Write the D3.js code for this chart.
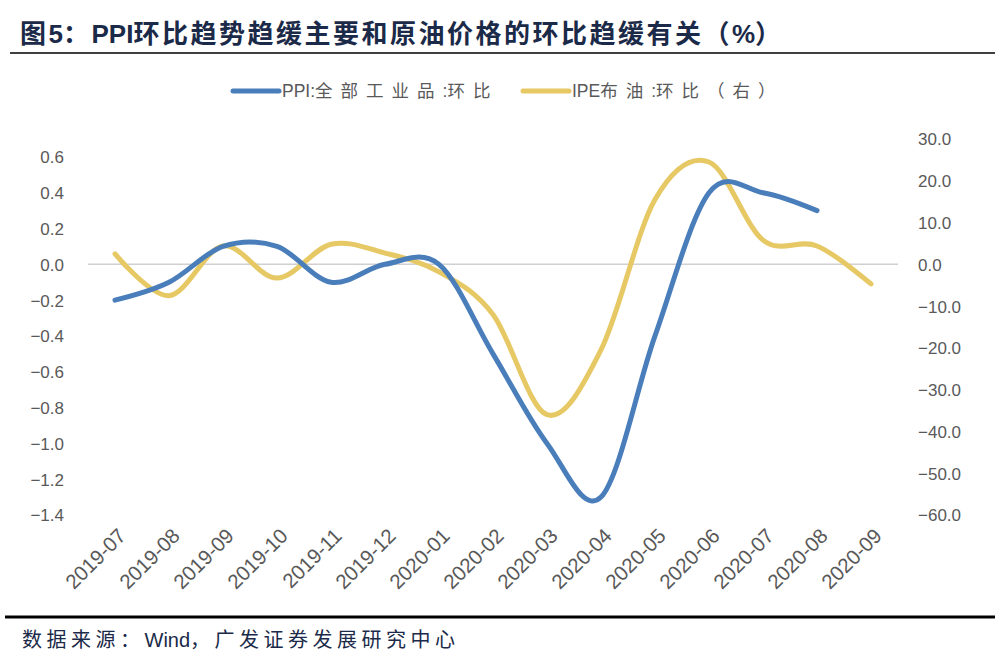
<!DOCTYPE html>
<html>
<head>
<meta charset="utf-8">
<script src="https://cdn.jsdelivr.net/npm/d3@7"></script>
<style>
  body { margin: 0; background: #fff; }
  svg { display: block; }
</style>
</head>
<body>
<div id="chart"></div>
<script>
// data
const months = ['2019-07', '2019-08', '2019-09', '2019-10', '2019-11', '2019-12', '2020-01',
  '2020-02', '2020-03', '2020-04', '2020-05', '2020-06', '2020-07', '2020-08', '2020-09'];
const ppiValues = [-0.2, -0.1, 0.1, 0.1, -0.1, 0.0, 0.0, -0.5, -1.0, -1.3, -0.4, 0.4, 0.4, 0.3];
const ipeValues = [2.5, -7.5, 4.4, -3.3, 4.8, 2.7, -1.8, -12, -36, -20.5, 15.5, 24.5, 5.8, 4.4, -4.7];
const leftTicks = [0.6, 0.4, 0.2, 0.0, -0.2, -0.4, -0.6, -0.8, -1.0, -1.2, -1.4];
const rightTicks = [30, 20, 10, 0, -10, -20, -30, -40, -50, -60];

const W = 1005, H = 666;
const plot = { left: 88, right: 898, top: 139, bottom: 515 };
const blue = '#4a7ebb', gold = '#e6c865';
const tickColor = '#595959';
const navy = '#1b2a48';
const font = '"Liberation Sans", Arial, "Noto Sans CJK SC", sans-serif';

const svg = d3.select('#chart').append('svg')
  .attr('width', W).attr('height', H);

// CJK glyphs in the original are set wider than the latin ones, so split into runs
const isCJK = ch => /[\u3000-\u303f\u4e00-\u9fff\uff00-\uffef]/.test(ch);
function spacedText(sel, str, cjkSpacing) {
  const runs = [];
  for (const ch of str) {
    const c = isCJK(ch);
    if (runs.length && runs[runs.length - 1].c === c) runs[runs.length - 1].t += ch;
    else runs.push({ c, t: ch });
  }
  runs.forEach(r => {
    sel.append('tspan')
      .attr('letter-spacing', r.c ? cjkSpacing + 'px' : null)
      .text(r.t);
  });
  return sel;
}

// title + rules
const title = svg.append('text')
  .attr('x', 20).attr('y', 43)
  .attr('fill', navy)
  .attr('font-family', font)
  .attr('font-size', '26px')
  .attr('font-weight', 'bold');
spacedText(title, '图5：PPI环比趋势趋缓主要和原油价格的环比趋缓有关（%）', 2.5);

svg.append('line')
  .attr('x1', 10).attr('x2', 995).attr('y1', 53).attr('y2', 53)
  .attr('stroke', '#000').attr('stroke-width', 1.5);

svg.append('line')
  .attr('x1', 5).attr('x2', 995).attr('y1', 617).attr('y2', 617)
  .attr('stroke', '#000').attr('stroke-width', 3);

const source = svg.append('text')
  .attr('x', 22).attr('y', 647)
  .attr('fill', navy)
  .attr('font-family', font)
  .attr('font-size', '20px');
spacedText(source, '数据来源：Wind，广发证券发展研究中心', 4.5);

// scales
const x = d3.scaleBand().domain(months).range([plot.left, plot.right]);
const cx = m => x(m) + x.bandwidth() / 2;
const yL = d3.scaleLinear().domain([-1.4, 0.7]).range([plot.bottom, plot.top]);
const yR = d3.scaleLinear().domain([-60, 30]).range([plot.bottom, plot.top]);

// zero line
svg.append('line')
  .attr('x1', plot.left).attr('x2', plot.right)
  .attr('y1', yL(0)).attr('y2', yL(0))
  .attr('stroke', '#d0d0d0').attr('stroke-width', 1.5);

// left axis
const leftAxis = svg.append('g')
  .attr('transform', `translate(${plot.left - 24},0)`)
  .call(d3.axisLeft(yL).tickValues(leftTicks).tickSize(0).tickPadding(0).tickFormat(d3.format('.1f')));
leftAxis.select('.domain').remove();

// right axis
const rightAxis = svg.append('g')
  .attr('transform', `translate(${plot.right + 20},0)`)
  .call(d3.axisRight(yR).tickValues(rightTicks).tickSize(0).tickPadding(0).tickFormat(d3.format('.1f')));
rightAxis.select('.domain').remove();

svg.selectAll('.tick text')
  .attr('fill', tickColor)
  .attr('font-family', font)
  .attr('font-size', '17px')
  .attr('dy', '0.35em');

// bottom axis, rotated labels
const bottomAxis = svg.append('g')
  .attr('transform', `translate(0,${plot.bottom + 12})`)
  .call(d3.axisBottom(x).tickSize(0).tickPadding(0));
bottomAxis.select('.domain').remove();
bottomAxis.selectAll('text')
  .attr('fill', tickColor)
  .attr('font-family', font)
  .attr('font-size', '20.5px')
  .attr('text-anchor', 'end')
  .attr('dy', '0.7em')
  .attr('transform', 'translate(2,0) rotate(-45)');

// lines
const curve = d3.curveCardinal.tension(0);
const ppiLine = d3.line()
  .x((d, i) => cx(months[i]))
  .y(d => yL(d))
  .curve(curve);
const ipeLine = d3.line()
  .x((d, i) => cx(months[i]))
  .y(d => yR(d))
  .curve(curve);

svg.append('path')
  .datum(ipeValues)
  .attr('d', ipeLine)
  .attr('fill', 'none')
  .attr('stroke', gold)
  .attr('stroke-width', 5)
  .attr('stroke-linecap', 'round');

svg.append('path')
  .datum(ppiValues)
  .attr('d', ppiLine)
  .attr('fill', 'none')
  .attr('stroke', blue)
  .attr('stroke-width', 5)
  .attr('stroke-linecap', 'round');

// legend
const legendItems = [
  { label: 'PPI:全部工业品:环比', color: blue, x: 233 },
  { label: 'IPE布油:环比（右）', color: gold, x: 523 }
];
const legend = svg.append('g');
legendItems.forEach(item => {
  legend.append('line')
    .attr('x1', item.x).attr('x2', item.x + 46)
    .attr('y1', 91).attr('y2', 91)
    .attr('stroke', item.color)
    .attr('stroke-width', 5)
    .attr('stroke-linecap', 'round');
  const t = legend.append('text')
    .attr('x', item.x + 49).attr('y', 91)
    .attr('dy', '0.35em')
    .attr('fill', tickColor)
    .attr('font-family', font)
    .attr('font-size', '17.5px');
  spacedText(t, item.label, 8);
});
</script>
</body>
</html>
